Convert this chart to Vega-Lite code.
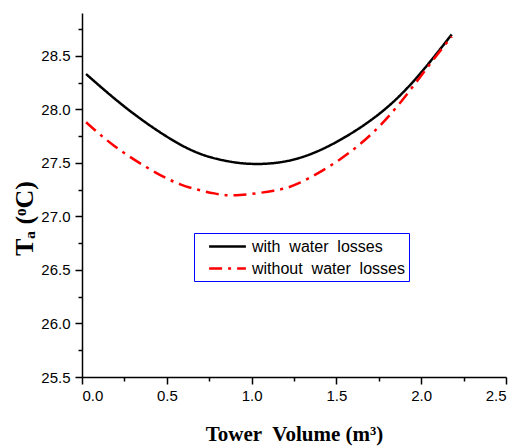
{
  "$schema": "https://vega.github.io/schema/vega-lite/v6.json",
  "autosize": {"type": "none"},
  "width": 424,
  "height": 364,
  "padding": {"left": 82, "top": 13, "right": 12, "bottom": 71},
  "background": "white",
  "config": {
    "view": {"stroke": null},
    "axis": {"grid": false, "domainColor": "black", "tickColor": "black", "domainWidth": 1.5, "tickWidth": 1.5, "labelColor": "black", "labelFont": "Liberation Sans", "labelFontSize": 15, "titleColor": "black"},
    "legend": {"orient": "none", "legendX": 112, "legendY": 220, "strokeColor": "#0000ff", "fillColor": "white", "padding": 4, "symbolOffset": 20, "rowPadding": 4, "labelOffset": 15, "labelFont": "Liberation Sans", "labelFontSize": 16, "labelColor": "black", "symbolType": "M-2.3,0H2.3", "symbolSize": 256, "symbolStrokeWidth": 2.5, "labelLimit": 300}
  },
  "data": {"values": [
    {"v": 0.024, "t": 28.33, "s": "with\u00a0\u00a0water\u00a0\u00a0losses"},
    {"v": 0.2, "t": 28.09, "s": "with\u00a0\u00a0water\u00a0\u00a0losses"},
    {"v": 0.4, "t": 27.85, "s": "with\u00a0\u00a0water\u00a0\u00a0losses"},
    {"v": 0.63, "t": 27.63, "s": "with\u00a0\u00a0water\u00a0\u00a0losses"},
    {"v": 0.83, "t": 27.525, "s": "with\u00a0\u00a0water\u00a0\u00a0losses"},
    {"v": 1.03, "t": 27.49, "s": "with\u00a0\u00a0water\u00a0\u00a0losses"},
    {"v": 1.28, "t": 27.545, "s": "with\u00a0\u00a0water\u00a0\u00a0losses"},
    {"v": 1.55, "t": 27.74, "s": "with\u00a0\u00a0water\u00a0\u00a0losses"},
    {"v": 1.8, "t": 28.02, "s": "with\u00a0\u00a0water\u00a0\u00a0losses"},
    {"v": 2.0, "t": 28.345, "s": "with\u00a0\u00a0water\u00a0\u00a0losses"},
    {"v": 2.18, "t": 28.70, "s": "with\u00a0\u00a0water\u00a0\u00a0losses"},
    {"v": 0.024, "t": 27.88, "s": "without\u00a0\u00a0water\u00a0\u00a0losses"},
    {"v": 0.185, "t": 27.665, "s": "without\u00a0\u00a0water\u00a0\u00a0losses"},
    {"v": 0.38, "t": 27.46, "s": "without\u00a0\u00a0water\u00a0\u00a0losses"},
    {"v": 0.58, "t": 27.30, "s": "without\u00a0\u00a0water\u00a0\u00a0losses"},
    {"v": 0.78, "t": 27.215, "s": "without\u00a0\u00a0water\u00a0\u00a0losses"},
    {"v": 0.93, "t": 27.20, "s": "without\u00a0\u00a0water\u00a0\u00a0losses"},
    {"v": 1.13, "t": 27.24, "s": "without\u00a0\u00a0water\u00a0\u00a0losses"},
    {"v": 1.285, "t": 27.315, "s": "without\u00a0\u00a0water\u00a0\u00a0losses"},
    {"v": 1.5, "t": 27.51, "s": "without\u00a0\u00a0water\u00a0\u00a0losses"},
    {"v": 1.7, "t": 27.76, "s": "without\u00a0\u00a0water\u00a0\u00a0losses"},
    {"v": 1.875, "t": 28.06, "s": "without\u00a0\u00a0water\u00a0\u00a0losses"},
    {"v": 2.05, "t": 28.42, "s": "without\u00a0\u00a0water\u00a0\u00a0losses"},
    {"v": 2.18, "t": 28.68, "s": "without\u00a0\u00a0water\u00a0\u00a0losses"}
  ]},
  "layer": [
    {
      "mark": {"type": "line", "opacity": 0},
      "encoding": {
        "x": {"field": "v", "type": "quantitative", "scale": {"domain": [0, 2.5], "nice": false, "zero": false},
          "axis": {"orient": "bottom", "values": [0.25, 0.75, 1.25, 1.75, 2.25], "tickSize": 4, "labels": false, "domain": false, "title": null}},
        "y": {"field": "t", "type": "quantitative", "scale": {"domain": [25.5, 28.9], "nice": false, "zero": false},
          "axis": {"orient": "left", "values": [25.75, 26.25, 26.75, 27.25, 27.75, 28.25, 28.75], "tickSize": 4, "labels": false, "domain": false, "title": null}},
        "detail": {"field": "s"}
      }
    },
    {
      "mark": {"type": "line", "interpolate": "natural", "strokeWidth": 2.5},
      "encoding": {
        "x": {"field": "v", "type": "quantitative",
          "axis": {"orient": "bottom", "values": [0, 0.5, 1, 1.5, 2, 2.5], "format": ".1f", "tickSize": 7, "labelPadding": 4,
            "title": "Tower\u00a0 Volume (m³)", "titleFont": "Liberation Serif", "titleFontSize": 21, "titleFontWeight": "bold", "titlePadding": 20}},
        "y": {"field": "t", "type": "quantitative",
          "axis": {"orient": "left", "values": [25.5, 26, 26.5, 27, 27.5, 28, 28.5], "format": ".1f", "tickSize": 7, "labelPadding": 5,
            "title": "Tₐ (ᵒC)", "titleFont": "Liberation Serif", "titleFontSize": 26, "titleFontWeight": "bold", "titlePadding": 3, "titleY": 205}},
        "color": {"field": "s", "type": "nominal", "title": null,
          "scale": {"domain": ["with\u00a0\u00a0water\u00a0\u00a0losses", "without\u00a0\u00a0water\u00a0\u00a0losses"], "range": ["#000000", "#ff0000"]}},
        "strokeDash": {"field": "s", "type": "nominal", "title": null,
          "scale": {"domain": ["with\u00a0\u00a0water\u00a0\u00a0losses", "without\u00a0\u00a0water\u00a0\u00a0losses"], "range": [[1, 0], [13, 6, 3, 6]]}}
      }
    }
  ],
  "resolve": {"axis": {"x": "independent", "y": "independent"}}
}
